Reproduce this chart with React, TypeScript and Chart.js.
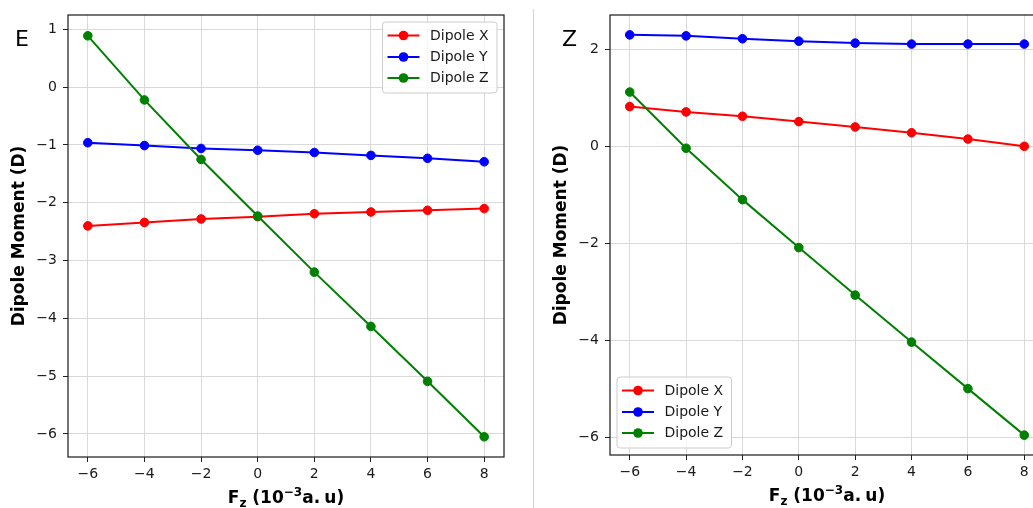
import React, { useEffect, useRef } from 'react';
import { Chart, registerables } from 'chart.js';

Chart.register(...registerables);

// ---------- data ----------
const fieldValues = [-6, -4, -2, 0, 2, 4, 6, 8];
const xTicks = [-6, -4, -2, 0, 2, 4, 6, 8];
const seriesNames = ['Dipole X', 'Dipole Y', 'Dipole Z'];
const seriesColors = ['#ff0000', '#0000ff', '#008000'];

const eDipoleX = [-2.40, -2.34, -2.28, -2.24, -2.19, -2.16, -2.13, -2.10];
const eDipoleY = [-0.96, -1.01, -1.06, -1.09, -1.13, -1.18, -1.23, -1.29];
const eDipoleZ = [0.89, -0.22, -1.25, -2.23, -3.20, -4.14, -5.09, -6.05];
const eYTicks = [1, 0, -1, -2, -3, -4, -5, -6];

const zDipoleX = [0.82, 0.71, 0.62, 0.51, 0.40, 0.28, 0.15, 0.0];
const zDipoleY = [2.30, 2.28, 2.22, 2.17, 2.13, 2.11, 2.11, 2.11];
const zDipoleZ = [1.12, -0.04, -1.10, -2.09, -3.07, -4.04, -5.0, -5.96];
const zYTicks = [2, 0, -2, -4, -6];

const xRange = [-6.7, 8.7];
const eYRange = [-6.40, 1.25];
const zYRange = [-6.37, 2.71];

const yTitle = 'Dipole Moment (D)';
const FONT = '"DejaVu Sans", "Liberation Sans", sans-serif';

const fmt = (v: number | string) => String(v).replace('-', '\u2212');

type PanelProps = {
  left: number;
  width: number;
  height: number;
  area: { left: number; top: number; right: number; bottom: number };
  series: number[][];
  yTicks: number[];
  yRange: number[];
  letter: string;
  letterPos: { x: number; y: number };
  yTitleX: number;
  xTitleBaseline: number;
  legendCorner: 'topRight' | 'bottomLeft';
};

function drawXTitle(ctx: CanvasRenderingContext2D, cx: number, baseline: number) {
  const big = `bold 17px ${FONT}`;
  const small = `bold 12px ${FONT}`;
  const parts = [
    { t: 'F', f: big, dy: 0 },
    { t: 'z', f: small, dy: 3.5 },
    { t: ' (10', f: big, dy: 0 },
    { t: '\u22123', f: small, dy: -7 },
    { t: 'a.', f: big, dy: 0 },
    { t: ' ', f: small, dy: 0 },
    { t: 'u)', f: big, dy: 0 },
  ];
  let total = 0;
  const widths: number[] = [];
  for (const p of parts) {
    ctx.font = p.f;
    const w = ctx.measureText(p.t).width;
    widths.push(w);
    total += w;
  }
  let x = cx - total / 2;
  ctx.fillStyle = '#000';
  ctx.textAlign = 'left';
  ctx.textBaseline = 'alphabetic';
  parts.forEach((p, i) => {
    ctx.font = p.f;
    ctx.fillText(p.t, x, baseline + p.dy);
    x += widths[i];
  });
}

function drawLegend(ctx: CanvasRenderingContext2D, chart: any, corner: string) {
  const a = chart.chartArea;
  const bw = 114.5;
  const bh = 71;
  const pad = 7;
  const bx = corner === 'topRight' ? a.right - pad - bw : a.left + pad;
  const by = corner === 'topRight' ? a.top + pad : a.bottom - pad - bh;
  const r = 3;
  ctx.save();
  ctx.beginPath();
  ctx.moveTo(bx + r, by);
  ctx.lineTo(bx + bw - r, by);
  ctx.arcTo(bx + bw, by, bx + bw, by + r, r);
  ctx.lineTo(bx + bw, by + bh - r);
  ctx.arcTo(bx + bw, by + bh, bx + bw - r, by + bh, r);
  ctx.lineTo(bx + r, by + bh);
  ctx.arcTo(bx, by + bh, bx, by + bh - r, r);
  ctx.lineTo(bx, by + r);
  ctx.arcTo(bx, by, bx + r, by, r);
  ctx.closePath();
  ctx.fillStyle = 'rgba(255,255,255,0.8)';
  ctx.fill();
  ctx.strokeStyle = '#cccccc';
  ctx.lineWidth = 1;
  ctx.stroke();
  const rows = [13.5, 35, 56];
  seriesNames.forEach((name, i) => {
    const y = by + rows[i];
    const c = seriesColors[i];
    ctx.strokeStyle = c;
    ctx.lineWidth = 2;
    ctx.beginPath();
    ctx.moveTo(bx + 5, y);
    ctx.lineTo(bx + 37, y);
    ctx.stroke();
    ctx.fillStyle = c;
    ctx.beginPath();
    ctx.arc(bx + 21, y, 4.8, 0, Math.PI * 2);
    ctx.fill();
    ctx.fillStyle = '#1a1a1a';
    ctx.font = `14px ${FONT}`;
    ctx.textAlign = 'left';
    ctx.textBaseline = 'middle';
    ctx.fillText(name, bx + 47.5, y + 0.5);
  });
  ctx.restore();
}

function Panel(props: PanelProps) {
  const ref = useRef<HTMLCanvasElement | null>(null);
  useEffect(() => {
    const canvas = ref.current;
    if (!canvas) return;
    const { width, height, area } = props;
    const gridColor = '#d9d9d9';
    const decor = {
      id: 'decor',
      afterDatasetsDraw(chart: any) {
        const ctx = chart.ctx as CanvasRenderingContext2D;
        const a = chart.chartArea;
        ctx.save();
        ctx.strokeStyle = '#222';
        ctx.lineWidth = 1.25;
        ctx.strokeRect(a.left, a.top, a.right - a.left, a.bottom - a.top);
        ctx.restore();
      },
      afterDraw(chart: any) {
        const ctx = chart.ctx as CanvasRenderingContext2D;
        const a = chart.chartArea;
        ctx.save();
        ctx.fillStyle = '#000';
        ctx.font = `22px ${FONT}`;
        ctx.textAlign = 'left';
        ctx.textBaseline = 'alphabetic';
        ctx.fillText(props.letter, props.letterPos.x, props.letterPos.y);
        ctx.save();
        ctx.translate(props.yTitleX, (a.top + a.bottom) / 2);
        ctx.rotate(-Math.PI / 2);
        ctx.font = `bold 17px ${FONT}`;
        ctx.textAlign = 'center';
        ctx.textBaseline = 'middle';
        ctx.fillText(yTitle, 0, 0);
        ctx.restore();
        drawXTitle(ctx, (a.left + a.right) / 2, props.xTitleBaseline);
        ctx.restore();
        drawLegend(ctx, chart, props.legendCorner);
      },
    };
    const datasets = props.series.map((vals, i) => ({
      label: seriesNames[i],
      data: fieldValues.map((x, j) => ({ x, y: vals[j] })),
      borderColor: seriesColors[i],
      backgroundColor: seriesColors[i],
      pointBackgroundColor: seriesColors[i],
      pointBorderColor: seriesColors[i],
      borderWidth: 2,
      pointRadius: 4.3,
      pointBorderWidth: 1,
      tension: 0,
      order: 2 - i,
    }));
    const tickFont = { family: FONT, size: 14 };
    const chart = new Chart(canvas, {
      type: 'line',
      data: { datasets },
      plugins: [decor],
      options: {
        animation: false,
        responsive: false,
        maintainAspectRatio: false,
        events: [],
        layout: { padding: { left: 0, top: area.top, right: width - area.right, bottom: 0 } },
        plugins: {
          legend: { display: false },
          tooltip: { enabled: false },
          title: { display: false },
        },
        scales: {
          x: {
            type: 'linear',
            min: xRange[0],
            max: xRange[1],
            afterFit: (s: any) => {
              s.height = height - area.bottom;
            },
            afterBuildTicks: (s: any) => {
              s.ticks = xTicks.map((v) => ({ value: v }));
            },
            grid: {
              color: gridColor,
              lineWidth: 1,
              drawTicks: true,
              tickLength: 5,
              tickColor: '#222',
              tickWidth: 1,
            },
            border: { display: false },
            ticks: {
              font: tickFont,
              color: '#1a1a1a',
              padding: 4,
              maxRotation: 0,
              autoSkip: false,
              callback: (v: any) => fmt(v),
            },
          },
          y: {
            type: 'linear',
            min: props.yRange[0],
            max: props.yRange[1],
            afterFit: (s: any) => {
              s.width = area.left;
            },
            afterBuildTicks: (s: any) => {
              s.ticks = props.yTicks.map((v) => ({ value: v }));
            },
            grid: {
              color: gridColor,
              lineWidth: 1,
              drawTicks: true,
              tickLength: 5,
              tickColor: '#222',
              tickWidth: 1,
            },
            border: { display: false },
            ticks: {
              font: tickFont,
              color: '#1a1a1a',
              padding: 6,
              autoSkip: false,
              callback: (v: any) => fmt(v),
            },
          },
        },
      } as any,
    });
    return () => chart.destroy();
  }, []);
  return (
    <canvas
      ref={ref}
      width={props.width}
      height={props.height}
      style={{
        position: 'absolute',
        left: props.left,
        top: 0,
        width: props.width,
        height: props.height,
        display: 'block',
      }}
    />
  );
}

export default function App() {
  return (
    <div
      style={{
        position: 'absolute',
        left: 0,
        top: 0,
        width: 1033,
        height: 508,
        overflow: 'hidden',
        background: '#fff',
      }}
    >
      <Panel
        left={0}
        width={520}
        height={508}
        area={{ left: 68, top: 15, right: 504, bottom: 457 }}
        series={[eDipoleX, eDipoleY, eDipoleZ]}
        yTicks={eYTicks}
        yRange={eYRange}
        letter="E"
        letterPos={{ x: 15, y: 46 }}
        yTitleX={20}
        xTitleBaseline={503}
        legendCorner="topRight"
      />
      <div
        style={{
          position: 'absolute',
          left: 533,
          top: 9,
          width: 1,
          height: 499,
          background: '#d4d4d4',
        }}
      />
      <Panel
        left={534}
        width={540}
        height={508}
        area={{ left: 76, top: 15, right: 510, bottom: 455 }}
        series={[zDipoleX, zDipoleY, zDipoleZ]}
        yTicks={zYTicks}
        yRange={zYRange}
        letter="Z"
        letterPos={{ x: 28, y: 46 }}
        yTitleX={28}
        xTitleBaseline={501}
        legendCorner="bottomLeft"
      />
    </div>
  );
}
